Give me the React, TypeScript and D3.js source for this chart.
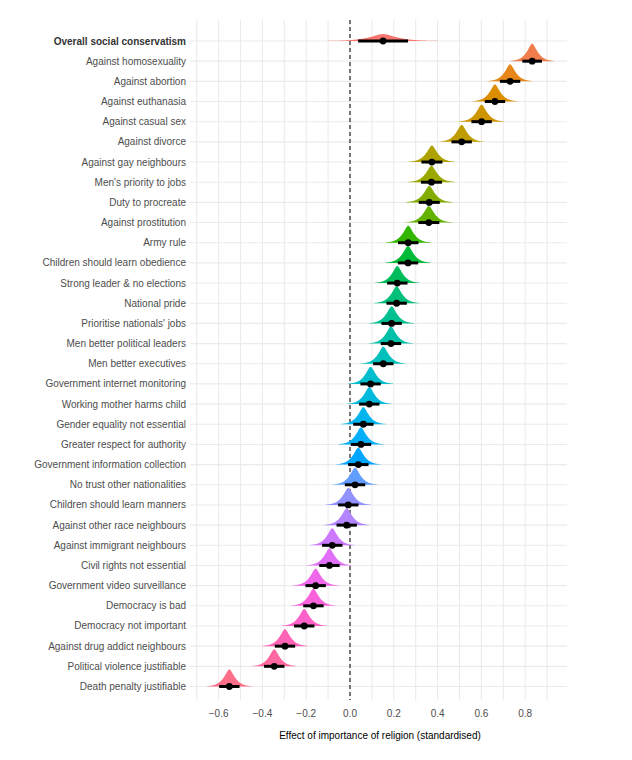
import React from 'react';
import * as d3 from 'd3';

// rows, top to bottom
const labels = [
  'Overall social conservatism',
  'Against homosexuality',
  'Against abortion',
  'Against euthanasia',
  'Against casual sex',
  'Against divorce',
  'Against gay neighbours',
  "Men's priority to jobs",
  'Duty to procreate',
  'Against prostitution',
  'Army rule',
  'Children should learn obedience',
  'Strong leader & no elections',
  'National pride',
  "Prioritise nationals' jobs",
  'Men better political leaders',
  'Men better executives',
  'Government internet monitoring',
  'Working mother harms child',
  'Gender equality not essential',
  'Greater respect for authority',
  'Government information collection',
  'No trust other nationalities',
  'Children should learn manners',
  'Against other race neighbours',
  'Against immigrant neighbours',
  'Civil rights not essential',
  'Government video surveillance',
  'Democracy is bad',
  'Democracy not important',
  'Against drug addict neighbours',
  'Political violence justifiable',
  'Death penalty justifiable',
];

// posterior medians
const estimates = [
  0.151, 0.832, 0.731, 0.662, 0.601, 0.51, 0.374, 0.372, 0.362, 0.36,
  0.266, 0.265, 0.216, 0.213, 0.19, 0.187, 0.152, 0.094, 0.088, 0.061,
  0.05, 0.038, 0.023, -0.008, -0.015, -0.081, -0.094, -0.157, -0.167,
  -0.209, -0.297, -0.346, -0.551,
];

// posterior scale (spread of each slab)
const spreads = [
  0.076, 0.03, 0.031, 0.031, 0.031, 0.031, 0.032, 0.032, 0.032, 0.032,
  0.031, 0.031, 0.031, 0.031, 0.031, 0.031, 0.031, 0.031, 0.031, 0.031,
  0.031, 0.031, 0.031, 0.031, 0.031, 0.031, 0.031, 0.031, 0.031,
  0.031, 0.031, 0.031, 0.031,
];

const xTicks = [-0.6, -0.4, -0.2, 0.0, 0.2, 0.4, 0.6, 0.8];
const xGrid = [-0.7, -0.6, -0.5, -0.4, -0.3, -0.2, -0.1, 0, 0.1, 0.2, 0.3, 0.4, 0.5, 0.6, 0.7, 0.8, 0.9];

// R's hcl() (polar LUV) -> hex, like ggplot's hue palette
function hclLuv(h: number, c: number, l: number) {
  const U = c * Math.cos((h * Math.PI) / 180);
  const V = c * Math.sin((h * Math.PI) / 180);
  const Xn = 95.047, Yn = 100, Zn = 108.883;
  const Y = Yn * (l > 8 ? Math.pow((l + 16) / 116, 3) : l / 903.3);
  const t = Xn + 15 * Yn + 3 * Zn;
  const un = (4 * Xn) / t, vn = (9 * Yn) / t;
  const u = U / (13 * l) + un, v = V / (13 * l) + vn;
  const X = (9 * Y * u) / (4 * v);
  const Z = -X / 3 - 5 * Y + (3 * Y) / v;
  const x = X / 100, y = Y / 100, z = Z / 100;
  const lin = [
    3.240479 * x - 1.53715 * y - 0.498535 * z,
    -0.969256 * x + 1.875992 * y + 0.041556 * z,
    0.055648 * x - 0.204043 * y + 1.057311 * z,
  ];
  const g = lin.map(c0 => {
    const s = c0 > 0.00304 ? 1.055 * Math.pow(c0, 1 / 2.4) - 0.055 : 12.92 * c0;
    return Math.round(Math.max(0, Math.min(1, s)) * 255);
  });
  return d3.rgb(g[0], g[1], g[2]).formatHex();
}

const W = 632, H = 760;
const left = 193, right = 567, top = 20, bottom = 700;

export default function App() {
  const x = d3.scaleLinear().domain([-0.717, 0.991]).range([left, right]);
  const y = d3.scalePoint<string>().domain(labels).range([41, 686.5]);
  const step = y.step();
  const n = labels.length;
  const colors = labels.map((_, i) => hclLuv(15 + (360 / n) * i, 100, 65));

  // shared normalisation: the narrowest slab gets 0.87 of a row
  const minSd = d3.min(spreads)!;
  const peak = 0.87 * step;
  const eps = 0.03;
  const p = 1.2;

  const slabs = labels.map((lab, i) => {
    const m = estimates[i], s = spreads[i];
    const xs = d3.range(-3.3, 3.3001, 0.03).map(z => m + z * s);
    const base = y(lab)!;
    const h0 = peak * (minSd / s);
    const area = d3.area<number>()
      .x(v => x(v))
      .y0(base)
      .y1(v => {
        const z = (v - m) / s;
        const r = Math.sqrt(z * z + eps) - Math.sqrt(eps);
        return base - h0 * Math.exp(-Math.pow(r, p));
      });
    return area(xs)!;
  });

  const font = '"Liberation Sans", Arial, Helvetica, sans-serif';

  return (
    <svg width={W} height={H} style={{ position: 'absolute', left: 0, top: 0, background: '#fff' }} fontFamily={font}>
      {/* grid */}
      {xGrid.map(v => (
        <line key={'gx' + v} x1={x(v)} x2={x(v)} y1={top} y2={bottom} stroke="#ebebeb" strokeWidth={1.1} />
      ))}
      {labels.map(lab => (
        <line key={'gy' + lab} x1={left} x2={right} y1={y(lab)} y2={y(lab)} stroke="#ebebeb" strokeWidth={1.1} />
      ))}
      {/* zero line */}
      <line x1={x(0)} x2={x(0)} y1={top} y2={bottom} stroke="#222" strokeWidth={1.2} strokeDasharray="4,3" />
      {/* slabs */}
      {labels.map((lab, i) => (
        <path key={'s' + lab} d={slabs[i]} fill={colors[i]} />
      ))}
      {/* intervals */}
      {labels.map((lab, i) => {
        const m = estimates[i], s = spreads[i], yy = y(lab)!;
        return (
          <g key={'i' + lab}>
            <line x1={x(m - 1.5 * s)} x2={x(m + 1.5 * s)} y1={yy} y2={yy} stroke="#000" strokeWidth={3} />
            <circle cx={x(m)} cy={yy} r={3.4} fill="#000" />
          </g>
        );
      })}
      {/* y axis */}
      {labels.map((lab, i) => (
        <g key={'yl' + lab}>
          <line x1={left - 3} x2={left} y1={y(lab)} y2={y(lab)} stroke="#ebebeb" strokeWidth={1.1} />
          <text
            x={left - 7}
            y={y(lab)}
            dy="0.35em"
            textAnchor="end"
            fontSize={10}
            fill={i === 0 ? '#333' : '#4d4d4d'}
            fontWeight={i === 0 ? 'bold' : 'normal'}
          >
            {lab}
          </text>
        </g>
      ))}
      {/* x axis */}
      {xTicks.map(v => (
        <text key={'xt' + v} x={x(v)} y={bottom + 10} dy="0.71em" textAnchor="middle" fontSize={10} fill="#4d4d4d">
          {d3.format('.1f')(v)}
        </text>
      ))}
      <text x={(left + right) / 2} y={735} dy="0.35em" textAnchor="middle" fontSize={10} fill="#000">
        Effect of importance of religion (standardised)
      </text>
    </svg>
  );
}
